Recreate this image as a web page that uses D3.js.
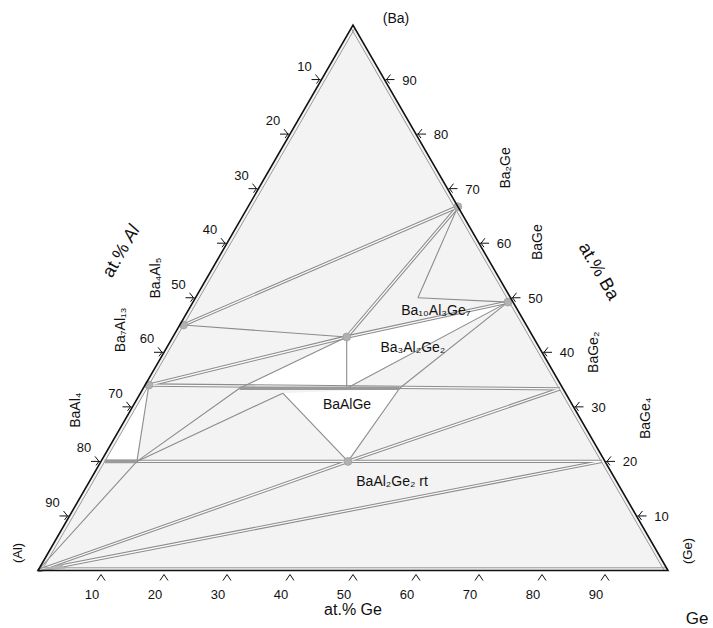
<!DOCTYPE html>
<html><head><meta charset="utf-8">
<script src="https://cdn.jsdelivr.net/npm/d3@7"></script>
<style>
body{margin:0;background:#fff}
text{font-family:"Liberation Sans",Arial,Helvetica,sans-serif;fill:#111}
</style>
</head><body>
<svg id="chart" width="713" height="628"></svg>
<script>
// Ba–Al–Ge isothermal section: phase compositions in at.% (Ba, Ge); Al = 100 - Ba - Ge
const phaseNames = ["Ba","Al","Ge","Ba2Ge","BaGe","BaGe2","BaGe4","Ba4Al5","Ba7Al13","BaAl4","BaAl4ss",
                    "Ba10Al3Ge7","Ba3Al2Ge2","BaAlGeV","BaAlGeAl","BaAlGeGe","BaAlGeTl","BaAl2Ge2","AlBlobA","AlBlobB"];
const phaseBa = [100,0,0,66.7,49.2,33.3,20,45,34,20,20,50,42.8,33.4,33.4,33.4,32.5,20,1.2,0.3];
const phaseGe = [0,0,100,33.3,50,66.2,79.5,0.6,0.6,0.6,5.7,35.3,27.6,32.3,15.3,40.7,22.6,39.2,3.2,4.2];

// tie lines
const singleTies = [["Ba2Ge","Ba10Al3Ge7"],["Ba10Al3Ge7","BaGe"],["Ba4Al5","Ba3Al2Ge2"],
  ["Ba3Al2Ge2","BaAlGeV"],["BaAlGeAl","Ba3Al2Ge2"],["BaAlGeV","BaGe"],["BaAlGeGe","BaGe"],
  ["BaAlGeTl","BaAl2Ge2"],["BaAlGeGe","BaAl2Ge2"],["BaAl4ss","BaAlGeTl"],["BaAl4ss","BaAlGeAl"],
  ["BaAl4ss","Ba7Al13"],["Al","BaAl4ss"]];
const doubleTies = [["Ba2Ge","Ba4Al5"],["Ba2Ge","Ba3Al2Ge2"],["BaGe","Ba3Al2Ge2"],
  ["Ba7Al13","Ba3Al2Ge2"],["Ba7Al13","BaGe2"],["BaAl4","BaGe4"],["Al","BaAl2Ge2"],
  ["BaAl2Ge2","BaGe2"],["Al","BaGe4"]];
// homogeneity ranges
const solidSolutions = [["BaAlGeAl","BaAlGeGe"],["BaAl4","BaAl4ss"]];
// three-phase fields left unshaded
const openFields = [["BaAlGeAl","Ba3Al2Ge2","BaAlGeV"],["Ba3Al2Ge2","BaGe","BaAlGeV"],
  ["BaAlGeTl","BaAlGeGe","BaAl2Ge2"],["BaAl4","Ba7Al13","BaAl4ss"]];
const nodePhases = ["Ba4Al5","Ba7Al13","Ba2Ge","BaGe","Ba3Al2Ge2","BaAl2Ge2"];

// binary edges drawn just inside the frame: [Ba, Ge] end points
const edgeBa = [[99.4,0.6],[99.4,0],[0.5,0.5]];
const edgeGe = [[0.6,0.6],[0,99.4],[0,99.5]];

const tickValues = [10,20,30,40,50,60,70,80,90];

// compound labels, anchored in composition space
const compoundText = ["Ba₂Ge","BaGe","BaGe₂","BaGe₄","Ba₄Al₅","Ba₇Al₁₃","BaAl₄","Ba₁₀Al₃Ge₇","Ba₃Al₂Ge₂","BaAlGe","BaAl₂Ge₂ rt"];
const compoundBa = [73.8,60.2,40.0,27.9,53.6,44.1,29.4,47.7,41.0,30.5,16.4];
const compoundGe = [37.2,49.1,68.1,82.4,-8.2,-9.0,-8.8,39.3,39.0,33.8,48.0];
const compoundVertical = [true,true,true,true,true,true,true,false,false,false,false];

const svg = d3.select("#chart");
const xs = d3.scaleLinear().domain([0,100]).range([38,668]);
const ys = d3.scaleLinear().domain([0,100]).range([570.5,25]);
const proj = (ba,ge) => [xs(ge + ba/2), ys(ba)];
const idx = n => phaseNames.indexOf(n);
const P = n => proj(phaseBa[idx(n)], phaseGe[idx(n)]);
const line = d3.line();

// triangle body
svg.append("path").attr("d", line([P("Al"),P("Ge"),P("Ba")]) + "Z").attr("fill","#f3f3f3");

svg.selectAll("path.open").data(openFields).join("path").attr("class","open")
  .attr("d", d => line(d.map(P)) + "Z").attr("fill","#fff");

// double tie lines
svg.selectAll("path.dbl").data(doubleTies).join("path").attr("class","dbl")
  .attr("d", d => line(d.map(P))).attr("stroke","#8c8c8c").attr("stroke-width",3.4).attr("fill","none");
svg.selectAll("path.dblin").data(doubleTies).join("path").attr("class","dblin")
  .attr("d", d => line(d.map(P))).attr("stroke","#fafafa").attr("stroke-width",1.3).attr("fill","none");

svg.selectAll("path.sgl").data(singleTies).join("path").attr("class","sgl")
  .attr("d", d => line(d.map(P))).attr("stroke","#8c8c8c").attr("stroke-width",1.1).attr("fill","none");

svg.selectAll("path.ss").data(solidSolutions).join("path").attr("class","ss")
  .attr("d", d => line(d.map(P))).attr("stroke","#9a9a9a").attr("stroke-width",3.6).attr("fill","none");

// binary edges inside frame
svg.selectAll("path.edge").data(d3.range(edgeBa.length)).join("path").attr("class","edge")
  .attr("d", i => line([proj(edgeBa[i][0],edgeGe[i][0]), proj(edgeBa[i][1],edgeGe[i][1])]))
  .attr("stroke","#9a9a9a").attr("stroke-width",1).attr("fill","none");

// corner blob at (Al)
svg.append("path").attr("d", line([P("Al"),P("AlBlobA"),P("AlBlobB")]) + "Z").attr("fill","#b4b4b4");

svg.selectAll("circle.node").data(nodePhases).join("circle").attr("class","node")
  .attr("cx", d => P(d)[0]).attr("cy", d => P(d)[1]).attr("r",4)
  .attr("fill","#b0b0b0").attr("stroke","#999").attr("stroke-width",0.6);

// frame
svg.append("path").attr("d", line([P("Al"),P("Ge"),P("Ba")]) + "Z")
  .attr("fill","none").attr("stroke","#111").attr("stroke-width",1.6).attr("stroke-linejoin","miter");

// ticks
const tk = svg.append("g").attr("stroke","#111").attr("stroke-width",1).attr("fill","none");
tickValues.forEach(v => {
  const [bx,by] = proj(0,v);
  tk.append("path").attr("d", `M${bx-4},${by+10}L${bx},${by+4}L${bx+4},${by+10}`);
  const [lx,ly] = proj(100-v,0);
  tk.append("path").attr("d", `M${lx-10},${ly}L${lx-1},${ly}M${lx-6},${ly-5}L${lx-2},${ly}L${lx-5},${ly+4}`);
  const [rx,ry] = proj(v,100-v);
  tk.append("path").attr("d", `M${rx+10},${ry}L${rx+1},${ry}M${rx+6},${ry-5}L${rx+2},${ry}L${rx+5},${ry+4}`);
});
const tl = svg.append("g").attr("font-size",13).attr("text-anchor","middle");
tickValues.forEach(v => {
  const [bx,by] = proj(0,v);
  tl.append("text").attr("x",bx-9).attr("y",by+28.5).text(v);
  const [lx,ly] = proj(100-v,0);
  tl.append("text").attr("x",lx-17).attr("y",ly-9).text(v);
  const [rx,ry] = proj(v,100-v);
  tl.append("text").attr("x",rx+25).attr("y",ry+5).text(v);
});

// corner and axis titles
svg.append("text").attr("x",396).attr("y",23).attr("font-size",14).attr("text-anchor","middle").text("(Ba)");
svg.append("text").attr("transform","translate(22,553) rotate(-90)").attr("font-size",13).attr("text-anchor","middle").text("(Al)");
svg.append("text").attr("transform","translate(692,551) rotate(-90)").attr("font-size",13).attr("text-anchor","middle").text("(Ge)");
svg.append("text").attr("x",697).attr("y",624).attr("font-size",17).attr("text-anchor","middle").text("Ge");
svg.append("text").attr("x",353).attr("y",615).attr("font-size",16).attr("text-anchor","middle").text("at.% Ge");
const alT = svg.append("text").attr("transform","translate(126,254) rotate(-60)").attr("font-size",18).attr("text-anchor","middle");
alT.append("tspan").text("at.% ");
alT.append("tspan").attr("font-style","italic").text("Al");
svg.append("text").attr("transform","translate(594,274) rotate(60)").attr("font-size",18).attr("text-anchor","middle").text("at.% Ba");

// compound labels
svg.selectAll("text.cmp").data(d3.range(compoundText.length)).join("text").attr("class","cmp")
  .attr("font-size", 14)
  .attr("text-anchor","middle")
  .attr("transform", i => {
    const [x,y] = proj(compoundBa[i], compoundGe[i]);
    return compoundVertical[i] ? `translate(${x},${y}) rotate(-90)` : `translate(${x},${y})`;
  })
  .attr("dy","0.35em")
  .text(i => compoundText[i]);
</script>
</body></html>
